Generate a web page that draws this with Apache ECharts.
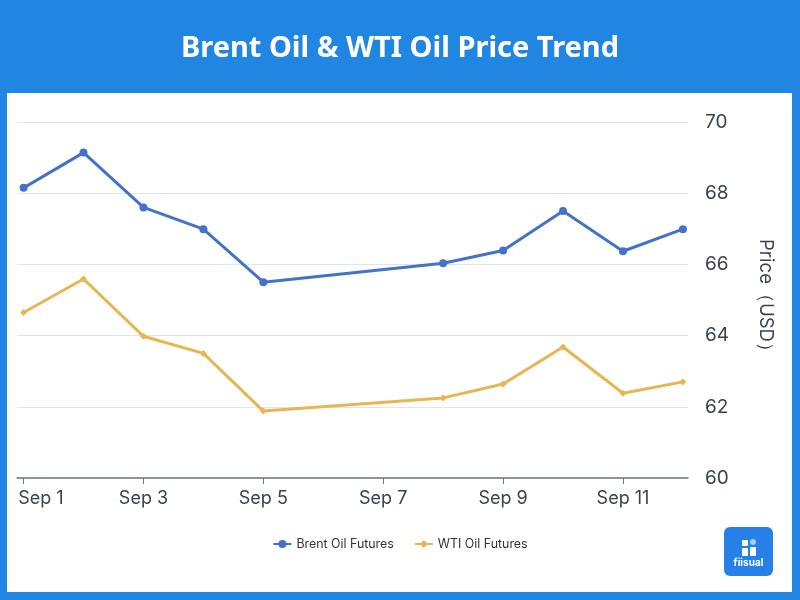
<!DOCTYPE html>
<html>
<head>
<meta charset="utf-8">
<script src="https://cdn.jsdelivr.net/npm/echarts@6/dist/echarts.min.js"></script>
<style>
  html,body{margin:0;padding:0;background:#2185e2;}
  #chart{width:800px;height:600px;}
</style>
</head>
<body>
<div id="chart"></div>
<script>
const dates = ['2025-09-01','2025-09-02','2025-09-03','2025-09-04','2025-09-05','2025-09-08','2025-09-09','2025-09-10','2025-09-11','2025-09-12'];
const brent = [68.15, 69.14, 67.60, 66.99, 65.50, 66.03, 66.39, 67.50, 66.37, 66.99];
const wti = [64.65, 65.59, 63.98, 63.50, 61.88, 62.25, 62.64, 63.68, 62.38, 62.70];
const yTicks = {min: 60, max: 70, interval: 2};
const seriesNames = ['Brent Oil Futures', 'WTI Oil Futures'];
const monthNames = ['Jan','Feb','Mar','Apr','May','Jun','Jul','Aug','Sep','Oct','Nov','Dec'];

const DAY = 86400000;
const firstTime = new Date(dates[0] + 'T00:00:00').getTime();
const chart = echarts.init(document.getElementById('chart'));
chart.setOption({
  backgroundColor: '#2185e2',
  animation: false,
  title: {
    text: 'Brent Oil & WTI Oil Price Trend',
    left: 'center',
    top: 29,
    textStyle: {color: '#ffffff', fontSize: 29, fontWeight: 'bold', fontFamily: 'Noto Sans'}
  },
  graphic: [
    {type: 'rect', shape: {x: 7, y: 93, width: 785, height: 499}, style: {fill: '#ffffff'}, z: -10},
    {type: 'group', left: 724, top: 527, children: [
      {type: 'rect', shape: {x: 0, y: 0, width: 49, height: 49, r: 6}, style: {fill: '#2680e8'}},
      {type: 'rect', shape: {x: 18, y: 13, width: 6, height: 6, r: 1}, style: {fill: '#ffffff'}},
      {type: 'circle', shape: {cx: 29, cy: 15, r: 3}, style: {fill: '#a9cdf5'}},
      {type: 'rect', shape: {x: 18, y: 21, width: 6, height: 8, r: 1}, style: {fill: '#ffffff'}},
      {type: 'rect', shape: {x: 26, y: 20, width: 6, height: 9, r: 1}, style: {fill: '#ffffff'}},
      {type: 'text', style: {x: 24.5, y: 36, text: 'fiisual', fill: '#ffffff', fontSize: 10, fontWeight: 'bold', fontFamily: 'Inter', align: 'center', verticalAlign: 'middle'}}
    ]}
  ],
  legend: {
    bottom: 45,
    left: 'center',
    itemGap: 20,
    itemWidth: 18,
    itemHeight: 10,
    textStyle: {color: '#333', fontSize: 12.4, fontFamily: 'Inter'},
    data: seriesNames
  },
  grid: {left: 17, right: 112, top: 122, bottom: 122, outerBoundsMode: 'none'},
  xAxis: {
    type: 'time',
    min: v => v.min - 0.11 * DAY,
    max: v => v.max + 0.085 * DAY,
    minInterval: 2 * DAY,
    maxInterval: 2 * DAY,
    axisLine: {lineStyle: {color: '#6e7580', width: 1.5}},
    axisTick: {show: true, length: 6, lineStyle: {color: '#6e7580'}},
    splitLine: {show: false},
    axisLabel: {
      color: '#394150', fontSize: 18, fontFamily: 'Inter', margin: 12,
      formatter: (v) => {
        const t = typeof v === 'object' && v !== null ? v.value : v;
        const d = new Date(t);
        const s = monthNames[d.getMonth()] + ' ' + d.getDate();
        return Math.abs(d.getTime() - firstTime) < DAY / 2 ? '{first|' + s + '}' : s;
      },
      rich: {
        first: {color: '#394150', fontSize: 18, fontFamily: 'Inter', width: 80, align: 'right'}
      }
    }
  },
  yAxis: {
    type: 'value',
    position: 'right',
    min: yTicks.min, max: yTicks.max, interval: yTicks.interval,
    name: 'Price（USD）',
    nameLocation: 'middle',
    nameRotate: -90,
    nameGap: 68,
    nameTextStyle: {color: '#394150', fontSize: 18.5, fontFamily: 'Inter'},
    axisLine: {show: false},
    axisTick: {show: false},
    splitLine: {lineStyle: {color: '#e1e4ee', width: 1.2}},
    axisLabel: {color: '#394150', fontSize: 19, fontFamily: 'Inter', margin: 17}
  },
  series: [
    {
      name: seriesNames[0], type: 'line',
      data: dates.map((d, i) => [d, brent[i]]),
      symbol: 'circle', symbolSize: 8,
      itemStyle: {color: '#4472c8'},
      lineStyle: {color: '#4472c8', width: 3}
    },
    {
      name: seriesNames[1], type: 'line',
      data: dates.map((d, i) => [d, wti[i]]),
      symbol: 'diamond', symbolSize: 7,
      itemStyle: {color: '#e8b553'},
      lineStyle: {color: '#e8b553', width: 3}
    }
  ]
});
</script>
</body>
</html>
